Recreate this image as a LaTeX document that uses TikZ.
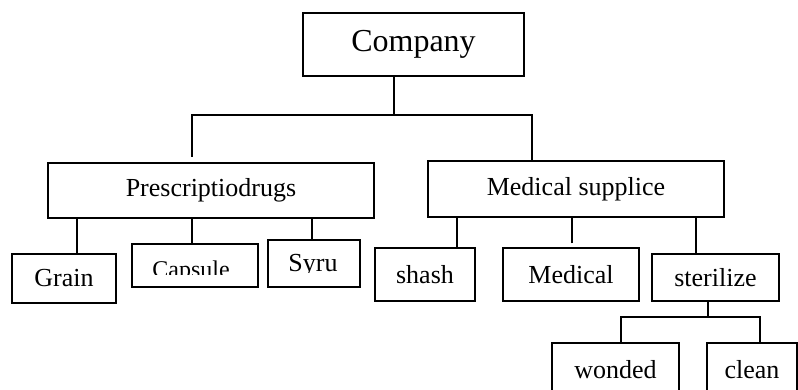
\documentclass[tikz,border=0pt]{standalone}
\usepackage{fontspec}
\setmainfont{Liberation Serif}
\begin{document}
\begin{tikzpicture}[x=1pt,y=1pt,line width=1.1pt,
    orgbox/.style={draw,rectangle,inner sep=0pt,font=\fontsize{26}{30}\selectfont},
    plain/.style={inner sep=0pt}]
            \useasboundingbox (0,0) rectangle (798,390);
            \clip (0,0) rectangle (798,390);
            % top level
            \node[orgbox,minimum width=221pt,minimum height=63pt,font=\fontsize{32}{38}\selectfont] (company) at (413.5,345.5) {Company};
            \node[orgbox,minimum width=326pt,minimum height=55pt] (presc) at (211,199.5) {Prescriptiodrugs};
            \node[orgbox,minimum width=296pt,minimum height=56pt] (medsup) at (576,201) {Medical supplice};
            % under Prescriptiodrugs
            \node[orgbox,minimum width=104pt,minimum height=49pt] (grain) at (64,111.5) {Grain};
            \node[orgbox,minimum width=126pt,minimum height=43pt] (capsule) at (195,124.5) {};
            \node[orgbox,minimum width=92pt,minimum height=47pt] (syru) at (314,126.5) {};
            \begin{scope}
                \clip (capsule.north west) rectangle (capsule.east |- 0,115);
                \node[plain,anchor=base,font=\fontsize{24}{28}\selectfont] (capsuletext) at (191,112) {Capsule};
            \end{scope}
            \begin{scope}
                \clip (syru.north west) rectangle (syru.east |- 0,117);
                \node[plain,anchor=base,font=\fontsize{26}{30}\selectfont] (syrutext) at (313,118) {Syru};
            \end{scope}
            % under Medical supplice
            \node[orgbox,minimum width=100pt,minimum height=53pt] (shash) at (425,115.5) {shash};
            \node[orgbox,minimum width=136pt,minimum height=53pt] (medical) at (571,115.5) {Medical};
            \node[orgbox,minimum width=127pt,minimum height=47pt] (sterilize) at (715.5,112.5) {sterilize};
            \node[orgbox,minimum width=127pt,minimum height=53pt] (wonded) at (615.5,20.5) {wonded};
            \node[orgbox,minimum width=90pt,minimum height=53pt] (clean) at (752,20.5) {clean};
            % connectors
            \coordinate (hub) at (394,275);
            \draw (company.south -| hub) -- (hub);
            \draw (hub) -| ([xshift=-19pt,yshift=5pt]presc.north);
            \draw (hub) -| ([xshift=-44pt]medsup.north);
            \draw ([xshift=13pt]grain.north) -- ([xshift=13pt]grain.north |- presc.south);
            \draw ([xshift=-3pt]capsule.north) -- ([xshift=-3pt]capsule.north |- presc.south);
            \draw ([xshift=-2pt]syru.north) -- ([xshift=-2pt]syru.north |- presc.south);
            \draw ([xshift=32pt]shash.north) -- ([xshift=32pt]shash.north |- medsup.south);
            \draw ([xshift=1pt,yshift=4pt]medical.north) -- ([xshift=1pt]medical.north |- medsup.south);
            \draw ([xshift=-19.5pt]sterilize.north) -- ([xshift=-19.5pt]sterilize.north |- medsup.south);
            \coordinate (hub2) at (708,73);
            \draw (sterilize.south -| hub2) -- (hub2);
            \draw (hub2) -| ([xshift=5.5pt]wonded.north);
            \draw (hub2) -| ([xshift=8pt]clean.north);
        \end{tikzpicture}
\end{document}
